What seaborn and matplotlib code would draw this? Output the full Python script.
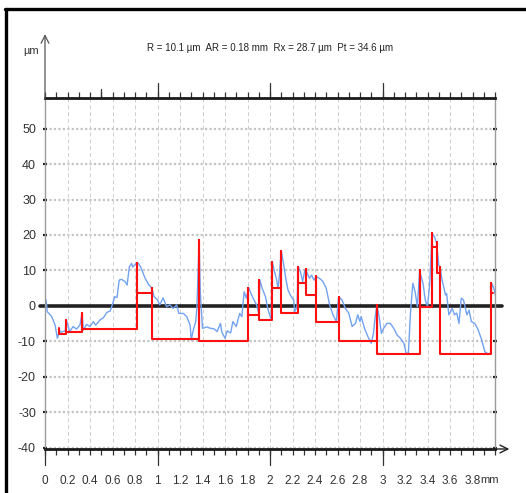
import matplotlib
matplotlib.use("Agg")
import matplotlib.pyplot as plt
from matplotlib.lines import Line2D
from matplotlib.ticker import MultipleLocator
import numpy as np
import pandas as pd
import seaborn as sns

# roughness profile (mm, um)
profile_x = [0.01, 0.02, 0.06, 0.09, 0.11, 0.13, 0.14, 0.18, 0.19, 0.22, 0.25, 0.28, 0.31, 0.33,
             0.34, 0.37, 0.40, 0.43, 0.45, 0.49, 0.52, 0.55, 0.58, 0.60, 0.62, 0.64, 0.66, 0.68,
             0.71, 0.73, 0.75, 0.77, 0.78, 0.81, 0.83, 0.85, 0.89, 0.92, 0.95, 0.97, 1.00, 1.02,
             1.05, 1.08, 1.11, 1.14, 1.17, 1.19, 1.23, 1.26, 1.29, 1.30, 1.32, 1.34, 1.35, 1.37,
             1.38, 1.40, 1.44, 1.47, 1.50, 1.53, 1.56, 1.57, 1.60, 1.62, 1.65, 1.67, 1.70, 1.73,
             1.75, 1.77, 1.79, 1.81, 1.83, 1.85, 1.88, 1.90, 1.91, 1.93, 1.96, 1.98, 2.01, 2.02,
             2.04, 2.06, 2.07, 2.08, 2.10, 2.12, 2.14, 2.16, 2.18, 2.21, 2.22, 2.24, 2.25, 2.27,
             2.29, 2.31, 2.32, 2.35, 2.37, 2.39, 2.41, 2.44, 2.47, 2.50, 2.53, 2.56, 2.59, 2.61,
             2.64, 2.67, 2.70, 2.73, 2.76, 2.78, 2.80, 2.81, 2.84, 2.87, 2.90, 2.92, 2.93, 2.95,
             2.97, 2.99, 3.01, 3.04, 3.07, 3.10, 3.13, 3.16, 3.19, 3.21, 3.23, 3.25, 3.27, 3.29,
             3.31, 3.33, 3.36, 3.38, 3.40, 3.42, 3.44, 3.46, 3.48, 3.50, 3.51, 3.53, 3.56, 3.57,
             3.59, 3.62, 3.64, 3.66, 3.68, 3.70, 3.72, 3.75, 3.77, 3.79, 3.82, 3.85, 3.88, 3.91,
             3.94, 3.96, 3.97, 3.99, 4.01]
profile_y = [1.7, -1.6, -3.0, -5.4, -9.1, -6.8, -7.4, -7.0, -4.0, -7.2, -5.8, -6.5, -5.4, -2.0,
             -6.8, -5.2, -5.8, -4.4, -5.4, -3.9, -3.3, -1.8, -1.4, 0.5, 2.6, 2.4, 7.3, 7.5,
             6.9, 5.9, 11.1, 12.0, 11.0, 12.0, 12.0, 11.0, 7.8, 6.1, 5.0, 2.6, 1.7, 0.3,
             2.3, -0.2, 0.3, -0.7, 0.3, -2.1, -2.1, -3.0, -5.4, -9.6, -6.5, -4.4, -0.7, 18.6,
             4.0, -6.3, -5.9, -6.3, -6.4, -7.2, -4.9, -7.2, -9.1, -7.0, -7.6, -4.4, -5.8, -2.1,
             -3.0, 4.0, 2.2, 5.2, 3.6, 2.2, 0.3, -2.1, 7.3, 5.0, 2.6, -0.7, -3.9, 12.4,
             9.7, 7.3, 5.0, 7.3, 15.5, 12.0, 7.8, 4.5, 3.1, 1.7, -1.6, -0.2, 11.1, 9.7,
             6.9, 10.1, 10.1, 7.8, 8.7, 7.3, 8.3, 7.8, 6.9, 5.0, 0.3, -2.5, -4.4, 2.6,
             1.7, -0.7, -2.0, -5.8, -4.9, -2.5, -4.4, -3.0, -6.3, -8.6, -10.5, -7.7, -4.4, 0.3,
             -3.0, -7.7, -6.3, -4.9, -4.9, -6.3, -8.2, -9.1, -10.5, -13.3, -13.3, -1.2, 6.4, 4.0,
             -0.2, 9.7, 6.4, 1.7, -0.2, 6.4, 20.5, 19.6, 18.0, 11.5, 11.0, 7.3, 3.1, 3.5,
             -2.5, -0.7, -2.5, -2.0, -4.9, 2.2, 1.7, -2.5, -1.2, -4.4, -4.9, -6.7, -9.4, -12.9,
             -13.5, -13.3, 6.5, 5.0, 2.2]

# motif envelope: start of each motif, peak at its start, floor level
motif_start = [0.12, 0.19, 0.33, 0.82, 0.95, 1.37, 1.80, 1.90, 2.02, 2.10, 2.25, 2.32, 2.41,
               2.61, 2.95, 3.33, 3.44, 3.48, 3.51, 3.96]
motif_peak = [-6.2, -4.0, -2.0, 12.0, 5.0, 18.6, 5.0, 7.3, 12.4, 15.5, 11.0, 10.4, 8.5,
              2.5, 0.3, 10.0, 20.5, 18.0, 11.0, 6.5]
motif_level = [-8.0, -7.3, -6.5, 3.6, -9.4, -9.9, -2.5, -4.0, 5.0, -2.0, 6.5, 3.0, -4.5,
               -9.9, -13.5, -0.3, 16.7, 9.4, -13.5, 3.6]
motif_end = 3.98

x_labels = ["0", "0.2", "0.4", "0.6", "0.8", "1", "1.2", "1.4", "1.6", "1.8",
            "2", "2.2", "2.4", "2.6", "2.8", "3", "3.2", "3.4", "3.6", "3.8"]
y_ticks = [50, 40, 30, 20, 10, 0, -10, -20, -30, -40]
title = "R = 10.1 µm  AR = 0.18 mm  Rx = 28.7 µm  Pt = 34.6 µm"

sns.set_style("white")
plt.rcParams["font.family"] = ["Liberation Sans Narrow", "Liberation Sans", "DejaVu Sans"]
plt.rcParams["axes.unicode_minus"] = False

fig = plt.figure(figsize=(5.26, 4.93), dpi=100)
ax = fig.add_axes([45 / 526, 1 - 449 / 493, 450 / 526, 351 / 493])

# build the step envelope
env_x, env_y = [], []
ends = motif_start[1:] + [motif_end]
for x0, pk, lv, x1 in zip(motif_start, motif_peak, motif_level, ends):
    env_x += [x0, x0, x1]
    env_y += [pk, lv, lv]
env = pd.DataFrame({"x": env_x, "y": env_y})
prof = pd.DataFrame({"x": profile_x, "y": profile_y})

# grid
for yv in y_ticks:
    if yv != 0:
        ax.axhline(yv, color="#c4c4c4", lw=1.6, ls=(0, (1, 1)), zorder=0)
for xv in np.arange(0.2, 3.81, 0.2):
    ax.axvline(xv, color="#cfcfcf", lw=0.7, ls=(0, (4, 3)), zorder=0)
ax.axhline(0, xmin=-0.012, xmax=1.015, color="#222222", lw=2.6, clip_on=False, zorder=1)

sns.lineplot(data=prof, x="x", y="y", sort=False, estimator=None, color="#72a3f0", lw=1.0, ax=ax, zorder=2)
sns.lineplot(data=env, x="x", y="y", sort=False, estimator=None, color="#ff1010", lw=1.5, ax=ax, zorder=3)

ax.set_xlim(0, 4.0)
ax.set_ylim(-40.3, 58.6)
ax.set_xlabel("")
ax.set_ylabel("")

for side in ["top", "bottom"]:
    ax.spines[side].set_color("#1a1a1a")
    ax.spines[side].set_linewidth(2.0)
for side in ["left", "right"]:
    ax.spines[side].set_color("#9a9a9a")
    ax.spines[side].set_linewidth(1.0)

ax.xaxis.set_minor_locator(MultipleLocator(0.1))
ax.set_xticks(np.arange(len(x_labels)) * 0.2)
ax.set_xticklabels(x_labels)
ax.tick_params(axis="x", which="both", top=True, bottom=True, direction="out",
               length=4.5, width=0.9, color="#333333", labelsize=8.5, pad=14, labelcolor="#333333")
ax.set_yticks(y_ticks)
ax.set_yticklabels([str(v) for v in y_ticks])
ax.tick_params(axis="y", left=True, right=True, direction="inout", length=3, width=1.6,
               color="#222222", labelsize=9, pad=5, labelcolor="#333333")

# tall ticks at whole millimetres, top and bottom
tr = ax.get_xaxis_transform()
for xv in [0, 1, 2, 3]:
    ax.plot([xv, xv], [0, -0.045], transform=tr, color="#333333", lw=0.9, clip_on=False)
    if xv > 0:
        ax.plot([xv, xv], [1, 1.043], transform=tr, color="#333333", lw=0.9, clip_on=False)
ax.plot([0.5, 0.5], [1, 1.025], transform=tr, color="#333333", lw=0.9, clip_on=False)

# axis arrows
ax.annotate("", xy=(0, 1.19), xytext=(0, 0.99), xycoords="axes fraction",
            arrowprops=dict(arrowstyle="->", lw=0.9, color="#555555", mutation_scale=14))
ax.annotate("", xy=(1.038, 0), xytext=(0.99, 0), xycoords="axes fraction",
            arrowprops=dict(arrowstyle="->", lw=1.0, color="#222222", mutation_scale=14))

fig.text(31 / 526, 1 - 51 / 493, "µm", fontsize=8, ha="center", va="center", color="#333333")
fig.text(490 / 526, 1 - 480 / 493, "mm", fontsize=8, ha="center", va="center", color="#333333")
fig.text(270 / 526, 1 - 48 / 493, title, fontsize=7, ha="center", va="center", color="#222222")

# outer frame (left and top only)
fig.add_artist(Line2D([6 / 526, 6 / 526], [0, 1 - 8.5 / 493], transform=fig.transFigure, color="black", lw=2.4))
fig.add_artist(Line2D([5 / 526, 1], [1 - 8.5 / 493, 1 - 8.5 / 493], transform=fig.transFigure, color="black", lw=2.4))

fig.savefig("out.png", dpi=100)
